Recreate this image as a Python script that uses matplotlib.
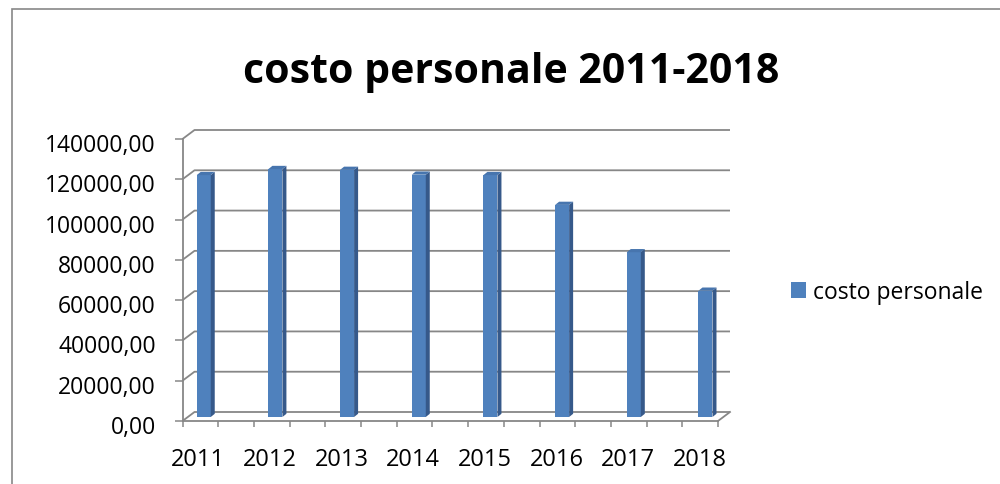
import numpy as np
import matplotlib
matplotlib.use("Agg")
import matplotlib.pyplot as plt
from matplotlib.patches import Polygon, Rectangle
from matplotlib.transforms import ScaledTranslation

# ---- data ----
years = ["2011", "2012", "2013", "2014", "2015", "2016", "2017", "2018"]
costo_personale = [120100, 123100, 122700, 120300, 120100, 105300, 81800, 62700]
y_ticks = [0, 20000, 40000, 60000, 80000, 100000, 120000, 140000]
title = "costo personale 2011-2018"
series_name = "costo personale"

FRONT = "#4F81BD"
SIDE = "#36598A"
TOP = "#4775AE"
GRAY = "#878787"
FONT = "Open Sans"

W, H, DPI = 1000, 485, 100
fig = plt.figure(figsize=(W / DPI, H / DPI), dpi=DPI)
fig.patch.set_facecolor("white")

# axes = front plane of the 3D box (pixel geometry)
L, R, B, T = 182.5, 718.0, 422.0, 140.0
ax = fig.add_axes([L / W, 1 - B / H, (R - L) / W, (B - T) / H])
ax.set_facecolor("none")
x = np.arange(len(years))
xlim = (-0.221, 7.25)
ax.set_xlim(*xlim)
ax.set_ylim(y_ticks[0], y_ticks[-1])

dpx_x = (xlim[1] - xlim[0]) / (R - L)  # data units per pixel
dpx_y = (y_ticks[-1] - y_ticks[0]) / (B - T)

# back wall gridlines (offset in depth)
back_dx, back_dy = 12 * dpx_x, 9 * dpx_y
for v in y_ticks:
    ax.plot([xlim[0], xlim[0] + back_dx, xlim[1] + back_dx],
            [v, v + back_dy, v + back_dy],
            color=GRAY, lw=1.3, clip_on=False, zorder=1, solid_capstyle="butt")
# right floor edge
ax.plot([xlim[1], xlim[1] + back_dx], [0, back_dy], color=GRAY, lw=1.3,
        clip_on=False, zorder=1)

# bars at mid depth
bar_trans = ax.transData + ScaledTranslation(5.4 / DPI, 4 / DPI, fig.dpi_scale_trans)
bw = 14 * dpx_x
dd_x, dd_y = 4.0 * dpx_x, 3.2 * dpx_y
bars = ax.bar(x, costo_personale, width=bw, color=FRONT, transform=bar_trans,
              clip_on=False, zorder=3, label=series_name, linewidth=0)
for xi, v in zip(x, costo_personale):
    xl, xr = xi - bw / 2, xi + bw / 2
    side = Polygon([(xr, 0), (xr + dd_x, dd_y), (xr + dd_x, v + dd_y), (xr, v)],
                   closed=True, facecolor=SIDE, edgecolor="none",
                   transform=bar_trans, clip_on=False, zorder=3)
    top = Polygon([(xl, v), (xr, v), (xr + dd_x, v + dd_y), (xl + dd_x, v + dd_y)],
                  closed=True, facecolor=TOP, edgecolor="none",
                  transform=bar_trans, clip_on=False, zorder=3)
    ax.add_patch(side)
    ax.add_patch(top)

# spines
for s in ["top", "right"]:
    ax.spines[s].set_visible(False)
for s in ["left", "bottom"]:
    ax.spines[s].set_color(GRAY)
    ax.spines[s].set_linewidth(1.3)
    ax.spines[s].set_zorder(2)

ax.set_yticks(y_ticks)
ax.set_yticklabels([f"{v:.2f}".replace(".", ",") for v in y_ticks],
                   fontfamily=FONT, fontsize=16.5)
ax.tick_params(axis="y", length=5.8, width=1.1, color=GRAY, pad=13.5)

ax.set_xticks(x)
ax.set_xticklabels(years, fontfamily=FONT, fontsize=17)
ax.tick_params(axis="x", which="major", length=0, pad=18.5)
ax.set_xticks(np.linspace(xlim[0], xlim[1], 16), minor=True)
ax.tick_params(axis="x", which="minor", length=4.5, width=1.1, color=GRAY)

# shift y tick labels a bit down like the reference
for lab in ax.get_yticklabels():
    lab.set_transform(lab.get_transform() + ScaledTranslation(0, -3 / DPI, fig.dpi_scale_trans))

# title
fig.text(511 / W, 1 - 83 / H, title, ha="center", va="baseline",
         fontfamily=FONT, fontweight="bold", fontsize=29.5)

# legend
leg = fig.legend(handles=[bars], labels=[series_name], loc="center left",
                 bbox_to_anchor=(791 / W, 1 - 293 / H), bbox_transform=fig.transFigure,
                 frameon=False, borderpad=0, borderaxespad=0,
                 handlelength=0.64, handleheight=0.64, handletextpad=0.3,
                 prop={"family": FONT, "size": 16.5})

# outer chart frame
fig.add_artist(Rectangle((11.7 / W, -0.1), 1.2, 1.1 - 10 / H,
                         transform=fig.transFigure, fill=False,
                         edgecolor=GRAY, lw=1.2, clip_on=False))

fig.savefig("out.png", dpi=DPI)
